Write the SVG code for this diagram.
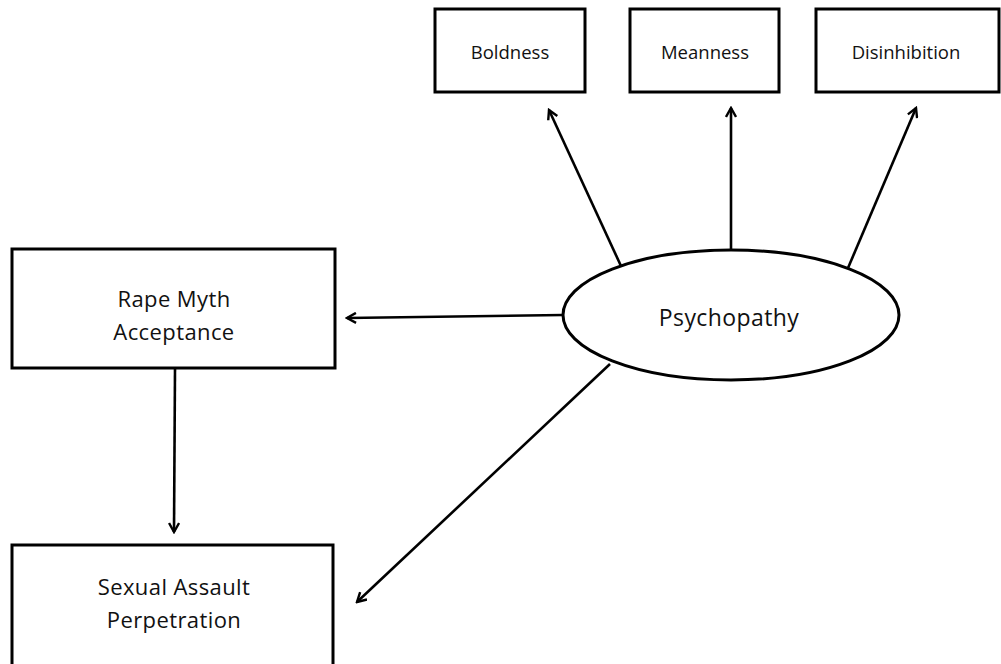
<svg xmlns="http://www.w3.org/2000/svg" width="1001" height="664" viewBox="0 0 1001 664">
<style>
.box{fill:#fff;stroke:#000;stroke-width:3}
.lbl{font-family:"Open Sans","Liberation Sans",sans-serif;fill:#111;text-anchor:middle}
.s{font-size:18.5px}
.m{font-size:22px;letter-spacing:0.4px}
.edge{stroke:#000;stroke-width:2.6;fill:none;marker-end:url(#ah)}
</style>
<defs>
<marker id="ah" viewBox="0 0 12 12" refX="10" refY="6" markerWidth="12" markerHeight="12" markerUnits="userSpaceOnUse" orient="auto">
<polyline points="1,1 10,6 1,11" fill="none" stroke="#000" stroke-width="2.4"/>
</marker>
</defs>
<rect width="1001" height="664" fill="#fff"/>
<g id="connectors">
<line class="edge" x1="621" y1="266" x2="549" y2="110"/>
<line class="edge" x1="731" y1="249" x2="731" y2="108"/>
<line class="edge" x1="848" y1="268" x2="916" y2="108"/>
<line class="edge" x1="563" y1="315" x2="347" y2="318"/>
<line class="edge" x1="175" y1="369" x2="174" y2="532"/>
<line class="edge" x1="610" y1="364" x2="357" y2="602"/>
</g>
<g id="boldness"><rect class="box" x="435" y="9" width="150" height="83"/><text class="lbl s" x="510" y="59">Boldness</text></g>
<g id="meanness"><rect class="box" x="630" y="9" width="149" height="83"/><text class="lbl s" x="705" y="59">Meanness</text></g>
<g id="disinhibition"><rect class="box" x="816" y="9" width="183" height="83"/><text class="lbl s" x="906" y="59">Disinhibition</text></g>
<g id="rape-myth"><rect class="box" x="12" y="249" width="323" height="119"/><text class="lbl m" x="174" y="307">Rape Myth</text><text class="lbl m" x="174" y="340">Acceptance</text></g>
<g id="sexual-assault"><rect class="box" x="12" y="545" width="321" height="122"/><text class="lbl m" x="174" y="595">Sexual Assault</text><text class="lbl m" x="174" y="628">Perpetration</text></g>
<g id="psychopathy"><ellipse class="box" cx="731" cy="315" rx="168" ry="65"/><text class="lbl m" x="729" y="326" style="font-size:23px">Psychopathy</text></g>
</svg>
